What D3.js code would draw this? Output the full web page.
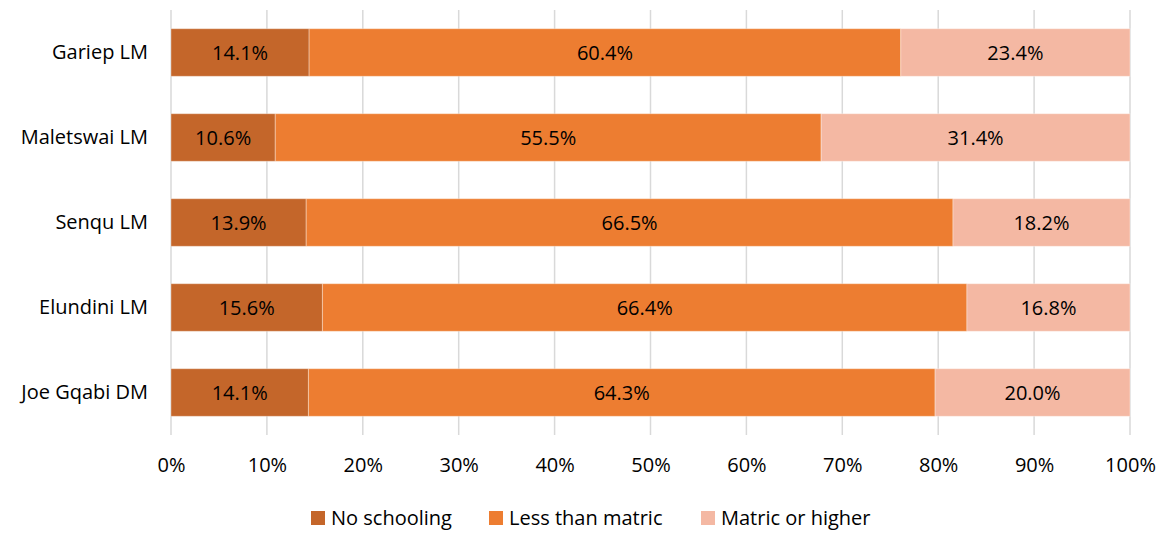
<!DOCTYPE html>
<html>
<head>
<meta charset="utf-8">
<script src="https://cdn.jsdelivr.net/npm/d3@7"></script>
<style>
  body { margin: 0; background: #fff; }
  svg text { font-family: "Open Sans", "Noto Sans", sans-serif; fill: #000; }
</style>
</head>
<body>
<div id="root"></div>
<script>
"use strict";

// categories, top to bottom
var places = ["Gariep LM", "Maletswai LM", "Senqu LM", "Elundini LM", "Joe Gqabi DM"];
var seriesNames = ["No schooling", "Less than matric", "Matric or higher"];
var noSchooling = [14.1, 10.6, 13.9, 15.6, 14.1];
var lessThanMatric = [60.4, 55.5, 66.5, 66.4, 64.3];
var matricOrHigher = [23.4, 31.4, 18.2, 16.8, 20.0];
var tickValues = [0, 0.1, 0.2, 0.3, 0.4, 0.5, 0.6, 0.7, 0.8, 0.9, 1];
var colors = ["#C4662A", "#ED7D31", "#F4B8A3"];

var width = 1164, height = 534;
var margin = { left: 171, right: 34, top: 10, bottom: 99 };
var fontSize = "20px";

var rows = places.map(function (p, i) {
    return {
        place: p,
        "No schooling": noSchooling[i],
        "Less than matric": lessThanMatric[i],
        "Matric or higher": matricOrHigher[i]
    };
});

// Excel 100% stacked: each row normalised by its own total
var stacked = d3.stack()
    .keys(seriesNames)
    .offset(d3.stackOffsetExpand)(rows);

var svg = d3.select("#root").append("svg")
    .attr("width", width)
    .attr("height", height);

var x = d3.scaleLinear()
    .domain([0, 1])
    .range([margin.left, width - margin.right]);

var y = d3.scaleBand()
    .domain(places)
    .range([margin.top, height - margin.bottom])
    .paddingInner(0.44)
    .paddingOuter(0.22);

var color = d3.scaleOrdinal().domain(seriesNames).range(colors);

// gridlines
svg.append("g").classed("grid", true)
    .selectAll("line")
    .data(tickValues)
    .enter()
    .append("line")
    .attr("x1", function (d) { return x(d); })
    .attr("x2", function (d) { return x(d); })
    .attr("y1", margin.top)
    .attr("y2", height - margin.bottom)
    .style("stroke", "#D9D9D9")
    .style("stroke-width", 1.5);

// x axis labels
var xAxis = d3.axisBottom(x)
    .tickValues(tickValues)
    .tickFormat(d3.format(".0%"))
    .tickSize(0)
    .tickPadding(23);

svg.append("g")
    .attr("transform", "translate(0," + (height - margin.bottom) + ")")
    .call(xAxis)
    .call(function (g) { g.select(".domain").remove(); })
    .selectAll("text")
    .style("font-size", fontSize)
    .style("font-family", "\"Open Sans\", sans-serif")
    .attr("fill", "#000");

// y axis labels
var yAxis = d3.axisLeft(y).tickSize(0).tickPadding(23);
svg.append("g")
    .attr("transform", "translate(" + margin.left + ",0)")
    .call(yAxis)
    .call(function (g) { g.select(".domain").remove(); })
    .selectAll("text")
    .style("font-size", fontSize)
    .style("font-family", "\"Open Sans\", sans-serif")
    .attr("fill", "#000");

// bars
var layers = svg.append("g").classed("bars", true)
    .selectAll("g")
    .data(stacked)
    .enter()
    .append("g")
    .attr("fill", function (d) { return color(d.key); });

layers.selectAll("rect")
    .data(function (d) { return d; })
    .enter()
    .append("rect")
    .attr("x", function (d) { return x(d[0]); })
    .attr("width", function (d) { return x(d[1]) - x(d[0]); })
    .attr("y", function (d) { return y(d.data.place); })
    .attr("height", y.bandwidth())
    .style("stroke", "#fff")
    .style("stroke-opacity", 0.35)
    .style("stroke-width", 1);

// value labels
layers.each(function (layer) {
    d3.select(this).selectAll("text")
        .data(layer)
        .enter()
        .append("text")
        .attr("x", function (d) { return (x(d[0]) + x(d[1])) / 2; })
        .attr("y", function (d) { return y(d.data.place) + y.bandwidth() / 2; })
        .attr("dy", "0.35em")
        .attr("text-anchor", "middle")
        .style("font-size", fontSize)
        .text(function (d) { return d.data[layer.key].toFixed(1) + "%"; });
});

// legend
var legendX = [311, 489, 701];
var legend = svg.append("g").classed("legend", true)
    .selectAll("g")
    .data(seriesNames)
    .enter()
    .append("g")
    .attr("transform", function (d, i) { return "translate(" + legendX[i] + "," + 518 + ")"; });

legend.append("rect")
    .attr("x", 0)
    .attr("y", -7)
    .attr("width", 14)
    .attr("height", 14)
    .attr("fill", function (d) { return color(d); });

legend.append("text")
    .attr("x", 20)
    .attr("dy", "0.35em")
    .style("font-size", fontSize)
    .text(function (d) { return d; });
</script>
</body>
</html>
